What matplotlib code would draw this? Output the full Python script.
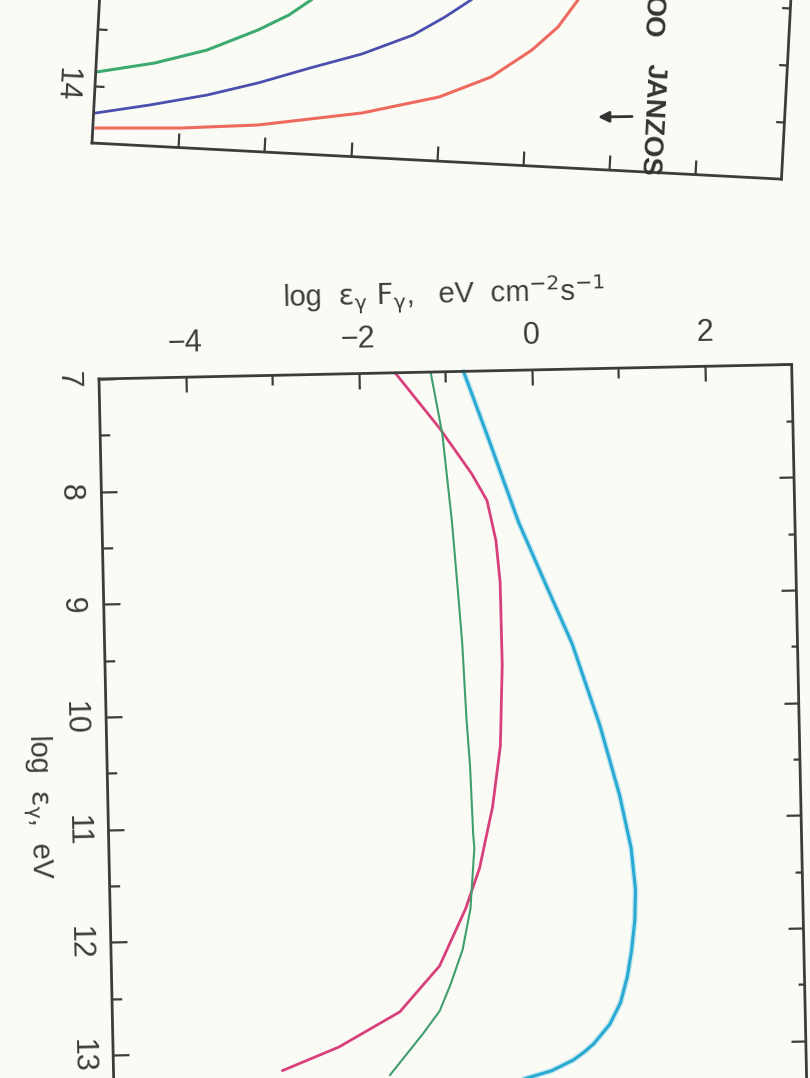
import numpy as np
import matplotlib
matplotlib.use("Agg")
import matplotlib.pyplot as plt
from matplotlib.transforms import Affine2D
from mpl_toolkits.axisartist import floating_axes
from mpl_toolkits.axisartist.grid_finder import FixedLocator, DictFormatter

plt.rcParams["font.family"] = ["Liberation Sans", "DejaVu Sans"]
plt.rcParams["mathtext.fontset"] = "dejavusans"

# upper panel (only its lower edge is on the sheet): log eps F vs log eps
up_green_f = [-4.985, -4.320, -3.726, -3.148, -2.798, -2.552]
up_green_e = [13.875, 13.770, 13.633, 13.434, 13.288, 13.147]
up_blue_f = [-4.972, -4.352, -3.698, -3.116, -2.523, -1.930, -1.351, -0.992, -0.701]
up_blue_e = [14.235, 14.140, 14.027, 13.898, 13.743, 13.596, 13.407, 13.234, 13.073]
up_red_f = [-4.963, -3.979, -3.090, -1.894, -1.013, -0.423, 0.035, 0.322, 0.537]
up_red_e = [14.367, 14.328, 14.266, 14.113, 13.938, 13.739, 13.483, 13.270, 13.024]
up_flux_ticks = [-4, -3, -2, -1, 0, 1, 2]
up_energy_ticks = [14.0, 13.5, 13.0]

# lower panel
lo_pink_e = [7.0, 7.5, 7.91, 8.15, 8.34, 8.51, 8.88, 9.61, 10.33, 10.87,
             11.41, 11.77, 12.27, 12.67, 12.97, 13.17]
lo_pink_f = [-1.58, -1.08, -0.72, -0.55, -0.50, -0.456, -0.418, -0.414, -0.455, -0.56,
             -0.725, -0.897, -1.21, -1.68, -2.39, -3.05]
lo_green_e = [7.0, 7.55, 8.33, 9.04, 9.42, 10.08, 10.50, 11.11, 11.23, 11.77,
              12.13, 12.44, 12.67, 12.87, 13.23]
lo_green_f = [-1.17, -1.05, -0.96, -0.90, -0.87, -0.84, -0.81, -0.79, -0.78, -0.84,
              -0.94, -1.09, -1.22, -1.42, -1.81]
lo_cyan_e = [7.0, 7.62, 8.35, 8.89, 9.44, 10.17, 10.79, 11.26, 11.63, 11.9, 12.17,
             12.4, 12.63, 12.82, 12.99, 13.06, 13.13, 13.22, 13.29]
lo_cyan_f = [-0.79, -0.51, -0.19, 0.10, 0.40, 0.70, 0.91, 1.03, 1.07, 1.055, 1.01,
             0.955, 0.87, 0.74, 0.55, 0.44, 0.31, 0.06, -0.27]
flux_ticks = [-4, -2, 0, 2]
flux_minor = [-3, -1, 1]
energy_ticks = [7, 8, 9, 10, 11, 12, 13]
energy_minor = [7.5, 8.5, 9.5, 10.5, 11.5, 12.5]

paper = "#fbfbf6"
ink = "#3c3c3c"
W, H = 810, 1078

fig = plt.figure(figsize=(W / 100, H / 100), dpi=100, facecolor=paper)


def neg(values):
    # energy runs downward on the sheet, so it is plotted negated
    return [-v for v in values]


def frame_rect(tr, ext, corner_xy, corner_px):
    # axes box that puts the given frame corner at the given pixel
    pts = tr.transform([(ext[0], ext[2]), (ext[1], ext[2]),
                        (ext[1], ext[3]), (ext[0], ext[3])])
    lo, hi = pts.min(axis=0), pts.max(axis=0)
    size = (hi - lo) * 1.02
    centre = np.asarray(corner_px, float) - (tr.transform([corner_xy])[0] - (hi + lo) / 2)
    return [(centre[0] - size[0] / 2) / W, (centre[1] - size[1] / 2) / H,
            size[0] / W, size[1] / H]


def tilted_axes(rect, tr, ext, loc1, loc2, fmt1, fmt2):
    helper = floating_axes.GridHelperCurveLinear(
        tr, extremes=ext,
        grid_locator1=FixedLocator(loc1), grid_locator2=FixedLocator(loc2),
        tick_formatter1=DictFormatter(fmt1), tick_formatter2=DictFormatter(fmt2))
    a = fig.add_axes(rect, axes_class=floating_axes.FloatingAxes, grid_helper=helper)
    for side in ["left", "right", "bottom", "top"]:
        art = a.axis[side]
        art.line.set_linewidth(2.0)
        art.line.set_edgecolor(ink)
        art.major_ticks.set_color(ink)
        art.major_ticks.set_markeredgewidth(1.6)
        art.major_ticklabels.set_visible(False)
        art.label.set_visible(False)
    return a


def show_labels(art, pad, rot):
    lab = art.major_ticklabels
    lab.set_visible(True)
    lab.set_rotation(rot)
    lab.set_va("center")
    lab.set_ha("center")
    lab.set_pad(pad)
    lab.set_fontsize(22)
    lab.set_color(ink)


# ---- upper panel, turned a little clockwise on the page
tr_up = Affine2D().scale(86.3, 114.0).rotate_deg(-3.0)
ext_up = (-5, 3, -14.5, -12.5)
rect_up = frame_rect(tr_up, ext_up, (-5, -14.5), (92, H - 143))
ax_up = tilted_axes(rect_up, tr_up, ext_up, up_flux_ticks, neg(up_energy_ticks),
                    {}, {-14.0: "14"})
ax_up.patch.set_facecolor(paper)
ax_up.axis["bottom"].major_ticks.set_ticksize(10.8)
ax_up.axis["left"].major_ticks.set_ticksize(6.5)
ax_up.axis["right"].major_ticks.set_ticksize(6.0)
ax_up.axis["top"].major_ticks.set_visible(False)
show_labels(ax_up.axis["left"], 8.5, 0)

aux_up = ax_up.get_aux_axes(tr_up)
aux_up.plot(up_green_f, neg(up_green_e), color="#3daa70", lw=2.2)
aux_up.plot(up_blue_f, neg(up_blue_e), color="#4b4fae", lw=2.0)
aux_up.plot(up_red_f, neg(up_red_e), color="#ee6a5f", lw=2.2)
aux_up.text(1.466, -14.04, "JANZOS", rotation=-93, ha="center", va="center",
            fontsize=20, fontweight="bold", color="#333333")
aux_up.text(1.403, -13.14, "OO", rotation=-93, ha="center", va="center",
            fontsize=20, fontweight="bold", color="#333333")
aux_up.annotate("", xy=(0.839, -14.04), xytext=(1.233, -14.02),
                arrowprops=dict(arrowstyle="-|>", color="#333333", lw=2,
                                mutation_scale=16, shrinkA=0, shrinkB=0))

# ---- lower panel, turned a little anticlockwise
tr_lo = Affine2D().scale(86.6, 112.7).rotate_deg(1.2)
ext_lo = (-5, 3, -13.5, -7)
rect_lo = frame_rect(tr_lo, ext_lo, (-5, -7), (99, H - 379))
ax = tilted_axes(rect_lo, tr_lo, ext_lo, flux_ticks, neg(energy_ticks),
                 {v: str(v).replace("-", "\u2212") for v in flux_ticks},
                 {-v: str(v) for v in energy_ticks})
ax.patch.set_facecolor(paper)
ax.axis["top"].major_ticks.set_ticksize(10.8)
ax.axis["left"].major_ticks.set_ticksize(11.5)
ax.axis["right"].major_ticks.set_ticksize(10.8)
ax.axis["bottom"].major_ticks.set_visible(False)
show_labels(ax.axis["top"], 16.5, 180)
show_labels(ax.axis["left"], 10.5, 0)

top_axis = ax.axis["top"]
top_axis.label.set_visible(True)
top_axis.set_label(r"log  $\mathrm{\epsilon}_{\mathrm{\gamma}}\ \mathrm{F}_{\mathrm{\gamma}}$,"
                   r"   eV  cm$^{-2}$s$^{-1}$")
top_axis.label.set_fontsize(21)
top_axis.label.set_color(ink)
top_axis.label.set_pad(9)

# half-unit ticks: a second frame on the same box carrying only the short marks
ax_minor = tilted_axes(rect_lo, tr_lo, ext_lo, flux_minor, neg(energy_minor), {}, {})
ax_minor.patch.set_visible(False)
for side in ["left", "right", "bottom", "top"]:
    ax_minor.axis[side].line.set_visible(False)
ax_minor.axis["top"].major_ticks.set_ticksize(7.2)
ax_minor.axis["left"].major_ticks.set_ticksize(7.0)
ax_minor.axis["right"].major_ticks.set_ticksize(5.0)
ax_minor.axis["bottom"].major_ticks.set_visible(False)

aux = ax.get_aux_axes(tr_lo)
aux.plot(lo_cyan_f, neg(lo_cyan_e), color="#9fdcef", lw=4.2, alpha=0.6, solid_capstyle="round")
aux.plot(lo_cyan_f, neg(lo_cyan_e), color="#2aa9d2", lw=2.2, solid_capstyle="round")
aux.plot(lo_pink_f, neg(lo_pink_e), color="#d8407c", lw=2.0, solid_capstyle="round")
aux.plot(lo_green_f, neg(lo_green_e), color="#3f9e6c", lw=1.5, solid_capstyle="round")
aux.text(-5.81, -10.785, r"log  $\mathrm{\epsilon}_{\mathrm{\gamma}}$,  eV", rotation=-88.8,
         ha="center", va="center", fontsize=21, color=ink)

fig.savefig("out.png", dpi=100, facecolor=paper)
